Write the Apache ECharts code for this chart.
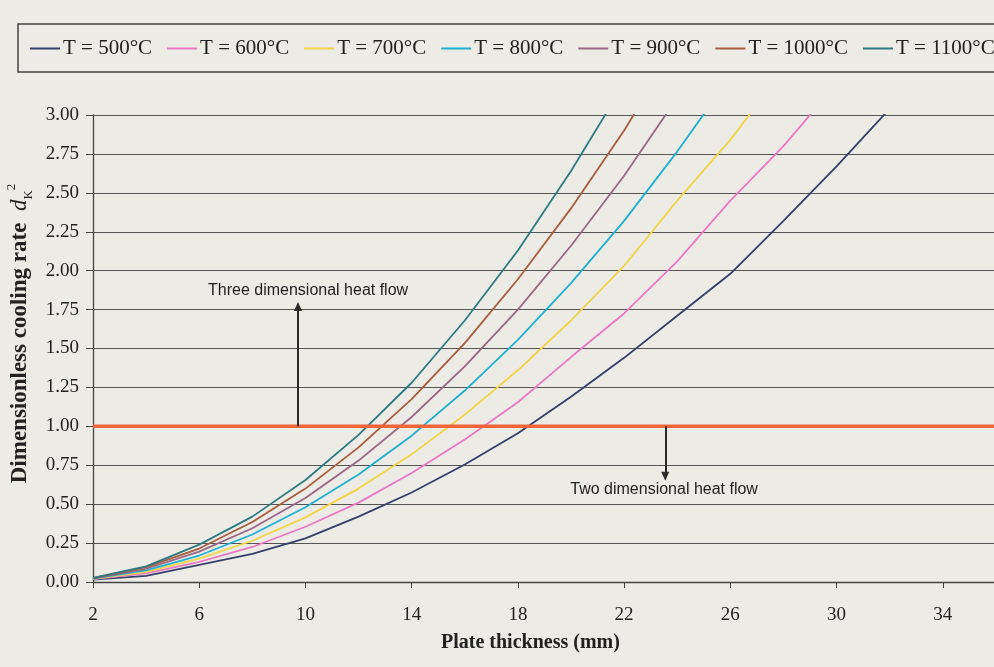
<!DOCTYPE html>
<html><head><meta charset="utf-8">
<script src="https://cdn.jsdelivr.net/npm/echarts/dist/echarts.min.js"></script>
<style>html,body{margin:0;padding:0;background:#ecebe6}#c{width:994px;height:667px}</style>
</head><body><div id="c"></div>
<script>
const thickness = [2,4,6,8,10,12,14,16,18,20,22,24,26,28,30,32];
const seriesNames = ['T = 500°C','T = 600°C','T = 700°C','T = 800°C','T = 900°C','T = 1000°C','T = 1100°C'];
const t500  = [0.015,0.04,0.11,0.18,0.28,0.42,0.575,0.755,0.955,1.19,1.44,1.71,1.98,2.32,2.67,3.04];
const t600  = [0.018,0.055,0.13,0.225,0.355,0.51,0.70,0.915,1.155,1.445,1.725,2.06,2.45,2.80,3.2];
const t700  = [0.02,0.065,0.15,0.265,0.415,0.60,0.82,1.075,1.36,1.68,2.03,2.45,2.84,3.29];
const t800  = [0.022,0.075,0.17,0.305,0.48,0.69,0.94,1.23,1.555,1.92,2.32,2.765,3.245];
const t900  = [0.024,0.085,0.195,0.345,0.54,0.78,1.06,1.385,1.75,2.16,2.61,3.11];
const t1000 = [0.025,0.095,0.215,0.385,0.60,0.865,1.175,1.535,1.945,2.40,2.90,3.46];
const t1100 = [0.027,0.10,0.24,0.42,0.655,0.945,1.28,1.68,2.13,2.64,3.2];
const limitValue = 1.0;
const xTicks = [2,6,10,14,18,22,26,30,34,38];
const yTicks = [0,0.25,0.5,0.75,1,1.25,1.5,1.75,2,2.25,2.5,2.75,3];
const arrowUp = {x: 9.72, from: 1.0, to: 1.77, label: 'Three dimensional heat flow'};
const arrowDown = {x: 23.55, from: 1.0, to: 0.68, label: 'Two dimensional heat flow'};

const colors = ['#34406a','#ec78c4','#f2d544','#1fb0d2','#9a6686','#a85c3c','#2e7a80'];
const allVals = [t500,t600,t700,t800,t900,t1000,t1100];
const serif = '"Liberation Serif","Times New Roman",serif';
const sans = '"Liberation Sans",Arial,sans-serif';

const chart = echarts.init(document.getElementById('c'));
const series = allVals.map((vals, i) => ({
  name: seriesNames[i], type: 'line', symbol: 'none', smooth: false,
  data: vals.map((v, j) => [thickness[j], v]),
  lineStyle: {color: colors[i], width: 1.8}, itemStyle: {color: colors[i]},
  z: 3
}));
series.push({
  name: 'limit', type: 'line', symbol: 'none',
  data: [[xTicks[0], limitValue], [xTicks[xTicks.length-1], limitValue]],
  lineStyle: {color: '#f0643a', width: 3.5}, z: 4,
  markLine: {
    silent: true, symbol: ['none','triangle'], symbolSize: [8, 9],
    lineStyle: {color: '#2a2a2a', width: 2, type: 'solid'},
    label: {show: false},
    data: [
      [{coord: [arrowUp.x, arrowUp.from]}, {coord: [arrowUp.x, arrowUp.to]}],
      [{coord: [arrowDown.x, arrowDown.from]}, {coord: [arrowDown.x, arrowDown.to]}]
    ]
  }
});

chart.setOption({
  backgroundColor: '#ecebe6',
  animation: false,
  color: colors,
  legend: {
    data: seriesNames, left: 30, top: 38, width: 1200, padding: 0, itemGap: 15,
    itemWidth: 30, itemHeight: 2, icon: 'rect',
    textStyle: {fontFamily: serif, fontSize: 21, color: '#222', padding: [0,0,0,-2]}
  },
  grid: {left: 93, top: 115, width: 956, height: 467, containLabel: false, outerBoundsMode: 'none'},
  xAxis: {
    type: 'value', min: 2, max: 38, interval: 4,
    axisLine: {lineStyle: {color: '#444', width: 1.3}},
    axisTick: {length: 6, lineStyle: {color: '#444'}},
    axisLabel: {fontFamily: serif, fontSize: 19, color: '#222', margin: 24},
    splitLine: {show: false}
  },
  yAxis: {
    type: 'value', min: 0, max: 3, interval: 0.25,
    axisLine: {show: true, lineStyle: {color: '#444', width: 1.3}},
    axisTick: {show: true, length: 7, lineStyle: {color: '#444'}},
    axisLabel: {fontFamily: serif, fontSize: 19, color: '#222', margin: 14,
      formatter: v => v.toFixed(2)},
    splitLine: {lineStyle: {color: '#555', width: 1.2}},
    name: '{t|Dimensionless cooling rate  }{d|d}{k|K}{s|2}',
    nameLocation: 'middle', nameGap: 58, nameRotate: 90,
    nameTextStyle: {
      padding: [0, 0, 0, 30],
      rich: {
        t: {fontFamily: serif, fontWeight: 'bold', fontSize: 23, color: '#222', lineHeight: 30},
        d: {fontFamily: serif, fontStyle: 'italic', fontSize: 23, color: '#222', lineHeight: 30},
        k: {fontFamily: serif, fontSize: 13, color: '#222', verticalAlign: 'bottom', lineHeight: 30, padding:[8,0,0,0]},
        s: {fontFamily: serif, fontSize: 13, color: '#222', verticalAlign: 'top', lineHeight: 30, padding:[0,0,10,0]}
      }
    }
  },
  title: {
    text: 'Plate thickness (mm)', left: 436, top: 628,
    textStyle: {fontFamily: serif, fontWeight: 'bold', fontSize: 20, color: '#222'}
  },
  series: series
});

function placeLabels() {
  const pUp = chart.convertToPixel({gridIndex: 0}, [arrowUp.x, arrowUp.to]);
  const pDn = chart.convertToPixel({gridIndex: 0}, [arrowDown.x, arrowDown.to]);
  chart.setOption({graphic: [
    {type: 'rect', shape: {x: 18, y: 24, width: 1000, height: 48},
      style: {fill: 'none', stroke: '#444', lineWidth: 1.5}, silent: true},
    {type: 'text', x: pUp[0] - 90, y: pUp[1] - 16, style: {text: arrowUp.label,
      font: '16px ' + sans, fill: '#222', textVerticalAlign: 'middle'}},
    {type: 'text', x: pDn[0] - 95, y: pDn[1] + 13, style: {text: arrowDown.label,
      font: '16px ' + sans, fill: '#222', textVerticalAlign: 'middle'}}
  ]});
}
placeLabels();
</script>
</body></html>
